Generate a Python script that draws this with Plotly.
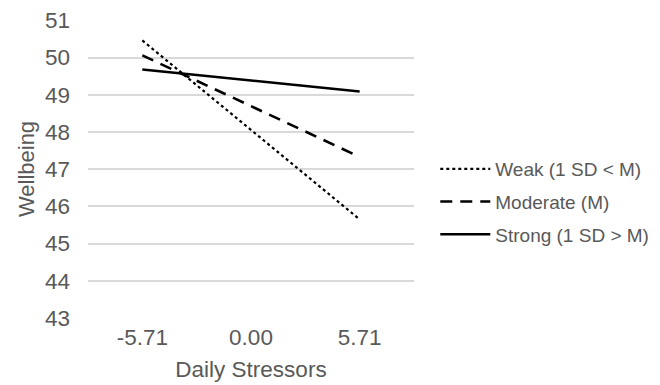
import plotly.graph_objects as go

categories = ["-5.71", "0.00", "5.71"]
x_points = ["-5.71", "5.71"]
weak = [50.46, 45.65]
moderate = [50.06, 47.33]
strong = [49.68, 49.09]
series_names = ["Weak (1 SD < M)", "Moderate (M)", "Strong (1 SD > M)"]
y_ticks = [43, 44, 45, 46, 47, 48, 49, 50, 51]

font_family = "Liberation Sans, Arial, sans-serif"
grey = "#595959"

fig = go.Figure()
fig.add_trace(go.Scatter(x=x_points, y=weak, mode="lines", name=series_names[0],
                         legendgroup="a",
                         line=dict(color="black", width=2.2, dash="dot")))
fig.add_trace(go.Scatter(x=x_points, y=moderate, mode="lines", name=series_names[1],
                         legendgroup="b",
                         line=dict(color="black", width=2.6, dash="12px,8px")))
fig.add_trace(go.Scatter(x=x_points, y=strong, mode="lines", name=series_names[2],
                         legendgroup="c",
                         line=dict(color="black", width=2.6)))

# page body has an 8px default margin, margins compensate for that offset
fig.update_layout(
    width=660, height=377,
    margin=dict(l=80, r=254, t=12, b=67),
    plot_bgcolor="white", paper_bgcolor="white",
    font=dict(family=font_family, color=grey, size=22),
    showlegend=True,
    legend=dict(xref="container", yref="container", x=0.6474, y=0.4854,
                xanchor="left", yanchor="middle",
                font=dict(size=19, color=grey), itemwidth=50,
                traceorder="grouped", tracegroupgap=5,
                bgcolor="rgba(0,0,0,0)"),
    xaxis=dict(type="category", categoryorder="array", categoryarray=categories,
               range=[-0.5, 2.5], showgrid=False, zeroline=False, showline=False,
               ticks="", tickfont=dict(size=22.5, color=grey), automargin=False,
               ticklabelstandoff=3,
               title=dict(text="Daily Stressors", font=dict(size=22.5, color=grey), standoff=12)),
    yaxis=dict(range=[43, 51.01], tickvals=y_ticks, showgrid=True, gridcolor="#d9d9d9",
               gridwidth=1.5, zeroline=False, showline=False, ticks="",
               ticklabelstandoff=17, automargin=False, ticklabeloverflow="allow",
               tickfont=dict(size=22.5, color=grey),
               title=dict(text="Wellbeing", font=dict(size=22, color=grey), standoff=4)),
)

fig.write_html("out.html")
